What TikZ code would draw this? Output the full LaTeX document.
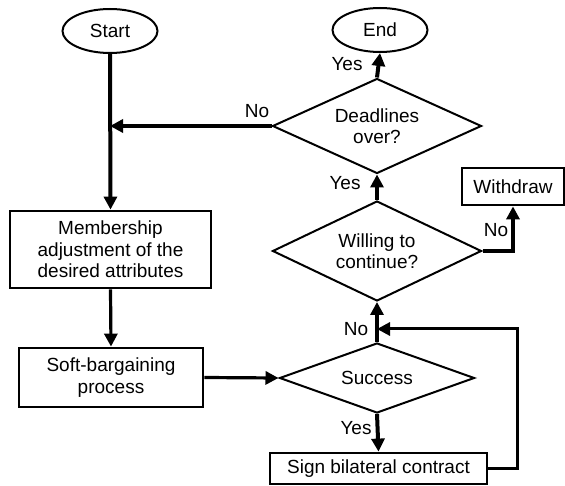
\documentclass[tikz,border=0pt]{standalone}
\usepackage{fontspec}
\setmainfont{Liberation Sans}
\usetikzlibrary{shapes.geometric,arrows.meta}
\begin{document}
\begin{tikzpicture}[x=1pt,y=-1pt,
  every node/.style={font=\fontsize{19}{21.5}\selectfont, align=center, inner sep=0pt},
  term/.style={draw, ellipse, line width=2pt, minimum width=95pt, minimum height=44pt},
  box/.style={draw, rectangle, line width=2.8pt},
  dec/.style={draw, diamond, aspect=2, line width=2pt},
  arr/.style={line width=4pt, -{Triangle[length=13pt,width=13pt]}},
  lbl/.style={}
]
\useasboundingbox (0,0) rectangle (565,486);
\node[term] (start) at (110,31) {Start};
\node[term] (endn) at (380,30) {End};
\node[dec, minimum width=209pt, minimum height=95pt] (dead) at (377,126) {Deadlines\\over?};
\node[dec, minimum width=209pt, minimum height=100pt] (will) at (377,251) {Willing to\\continue?};
\node[dec, minimum width=195pt, minimum height=70pt] (succ) at (377,378) {Success};
\node[box, minimum width=201pt, minimum height=77pt] (memb) at (110.5,249.5) {Membership\\adjustment of the\\desired attributes};
\node[box, minimum width=184pt, minimum height=59pt] (soft) at (111,377.5) {Soft-bargaining\\process};
\node[box, minimum width=102pt, minimum height=37pt] (wd) at (513,186.5) {Withdraw};
\node[box, minimum width=217pt, minimum height=31pt] (sign) at (378.5,468.5) {Sign bilateral contract};

\draw[arr] (start.south) -- (memb.north);
\draw[arr] (dead.west) -- (dead.west -| start.south);
\node[lbl] (lno1) at (257,111) {No};
\draw[arr, line width=3.2pt] (memb.south) -- (soft.north);
\draw[arr, line width=3.2pt] (soft.east) -- (succ.west);
\draw[arr] (succ.north) -- (will.south);
\node[lbl] (lno2) at (356,329) {No};
\draw[arr] (succ.south) -- (sign.north);
\node[lbl] (lyes1) at (356,428) {Yes};
\draw[arr] (will.north) -- (dead.south);
\node[lbl] (lyes2) at (345,183) {Yes};
\draw[arr] (dead.north) -- (endn.south);
\node[lbl] (lyes3) at (347,64) {Yes};
\draw[arr] (will.east) -| (wd.south);
\node[lbl] (lno3) at (496,230) {No};
\coordinate (rc) at (517,329);
\draw[arr, line width=3pt] (sign.east) -| (rc) -- (rc -| succ.north);
\end{tikzpicture}
\end{document}
